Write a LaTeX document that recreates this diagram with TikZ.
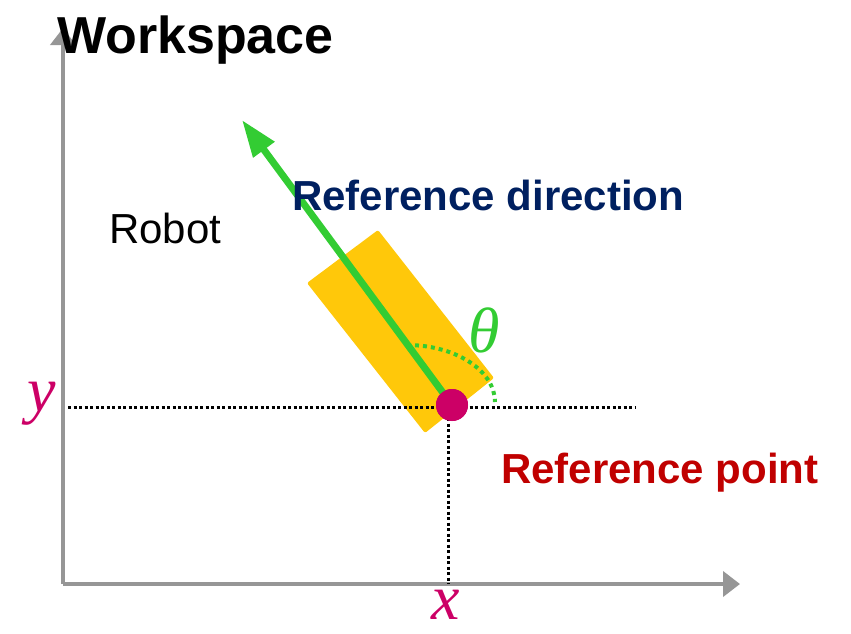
\documentclass[tikz,border=0pt]{standalone}
\usepackage{fontspec}
\setmainfont{Liberation Sans}
\newfontfamily\lblfont{Liberation Serif}
\usepackage{tikz}
\usetikzlibrary{arrows.meta,positioning}
\definecolor{axiscolor}{RGB}{150,150,150}
\definecolor{robotcolor}{RGB}{255,200,10}
\definecolor{dircolor}{RGB}{51,204,51}
\definecolor{pointcolor}{RGB}{204,0,102}
\definecolor{navycolor}{RGB}{0,32,96}
\definecolor{redcolor}{RGB}{192,0,0}
\begin{document}
\begin{tikzpicture}[x=1pt,y=-1pt,
    axis/.style={line width=4pt,draw=axiscolor,-{Triangle[length=17pt,width=25pt]}},
    guide/.style={line width=3pt,dash pattern=on 3pt off 2.5pt},
    label/.style={anchor=base west,inner sep=0pt,font=\fontsize{42}{42}\selectfont},
    mathlbl/.style={anchor=base,inner sep=0pt,font=\fontsize{64}{64}\selectfont\lblfont\itshape}]
  \useasboundingbox (0,0) rectangle (851,633);

  % axes
  \coordinate (origin) at (63,584);
  \coordinate (xend) at (740,584);
  \coordinate (yend) at (63,28);
  \draw[axis] (origin) -- (xend);
  \draw[axis] (origin) -- (yend);

  % robot body
  \fill[robotcolor,rounded corners=2pt]
    (378,230) -- (494,378) -- (425,433) -- (307,283) -- cycle;

  % reference point and guides
  \node[circle,fill=pointcolor,minimum size=32pt,inner sep=0pt] (refpt) at (452,405) {};
  \coordinate (yfoot) at (68,407);
  \coordinate (yright) at (636,407);
  \coordinate (xfoot) at (448,584);
  \draw[guide] (yfoot) -- (yright);
  \draw[guide] (448,407) -- (xfoot);

  % angle
  \coordinate (arcstart) at (407,345);
  \coordinate (arcend) at (495,402);
  \draw[dircolor,line width=4pt,dash pattern=on 4pt off 4pt]
    (arcstart) .. controls (456,345) and (495,371) .. (arcend);

  % reference direction
  \coordinate (tip) at (242,120);
  \draw[dircolor,line width=7pt,-{Triangle[length=37pt,width=25pt]}]
    (refpt.center) -- (tip);
  \node[circle,fill=pointcolor,minimum size=32pt,inner sep=0pt] at (refpt) {};

  % labels
  \node[label,font=\fontsize{52}{52}\selectfont\bfseries] (ws) at (57,53) {Workspace};
  \node[label] (robot) at (109,243) {Robot};
  \node[label,font=\fontsize{42}{42}\selectfont\bfseries,text=navycolor] (dirlbl) at (292,210) {Reference direction};
  \node[label,font=\fontsize{42}{42}\selectfont\bfseries,text=redcolor] (ptlbl) at (501,483) {Reference point};
  \node[mathlbl,text=pointcolor] (ylbl) at (42,411) {y};
  \node[mathlbl,text=pointcolor] (xlbl) at (446,619) {x};
  \node[mathlbl,text=dircolor] (thlbl) at (484,352) {θ};
\end{tikzpicture}
\end{document}
